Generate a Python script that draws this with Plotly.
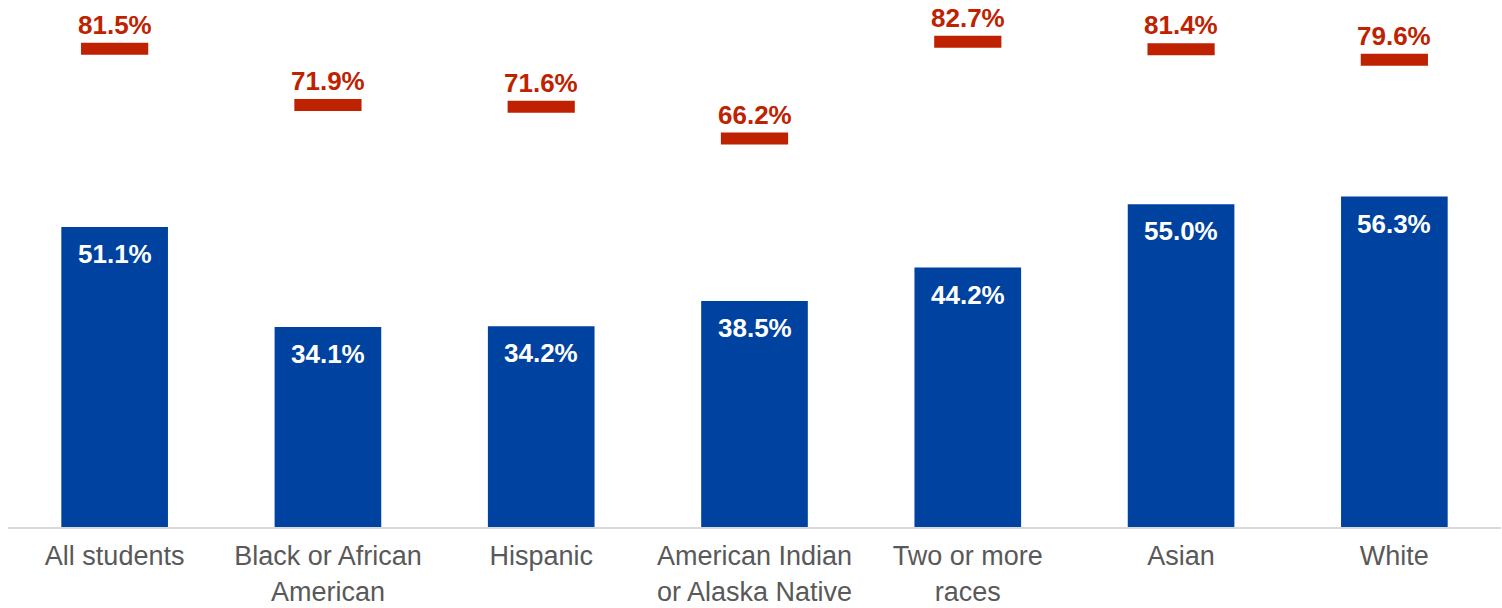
import plotly.graph_objects as go

categories = ["All students", "Black or African<br>American", "Hispanic",
              "American Indian<br>or Alaska Native", "Two or more<br>races",
              "Asian", "White"]
bar_values = [51.1, 34.1, 34.2, 38.5, 44.2, 55.0, 56.3]
marker_values = [81.5, 71.9, 71.6, 66.2, 82.7, 81.4, 79.6]

BLUE = "#0042A0"
RED = "#BE2200"
FONT = "Liberation Sans, Arial, Helvetica, sans-serif"

fig = go.Figure()

fig.add_trace(go.Bar(
    x=categories, y=bar_values, width=0.5,
    marker=dict(color=BLUE, line=dict(width=0)),
    hoverinfo="skip",
))

# line-ew symbols are drawn at 1.4x the marker radius
fig.add_trace(go.Scatter(
    x=categories, y=marker_values, mode="markers",
    marker=dict(symbol="line-ew", size=48,
                line=dict(width=12, color=RED), color=RED),
    hoverinfo="skip",
))

annotations = []
for cat, v in zip(categories, bar_values):
    annotations.append(dict(
        x=cat, y=v, xref="x", yref="y", text=f"<b>{v:.1f}%</b>",
        showarrow=False, yanchor="top", yshift=-10,
        font=dict(family=FONT, size=26, color="white"),
    ))
for cat, v in zip(categories, marker_values):
    annotations.append(dict(
        x=cat, y=v, xref="x", yref="y", text=f"<b>{v:.1f}%</b>",
        showarrow=False, yanchor="bottom", yshift=7,
        font=dict(family=FONT, size=26, color=RED),
    ))

fig.update_layout(
    width=1502, height=608,
    margin=dict(l=8, r=1, t=0, b=81),
    paper_bgcolor="white", plot_bgcolor="white",
    showlegend=False,
    bargap=0.5,
    annotations=annotations,
    font=dict(family=FONT),
)
fig.update_xaxes(
    type="category", range=[-0.5, 6.5], automargin=False,
    showline=True, linecolor="#D9D9D9", linewidth=2,
    showgrid=False, ticks="", ticklabelstandoff=4,
    tickfont=dict(family=FONT, size=27, color="#595959"),
)
fig.update_yaxes(
    range=[0, 89.8], visible=False, showgrid=False, zeroline=False,
    automargin=False,
)

fig.write_html("out.html")
